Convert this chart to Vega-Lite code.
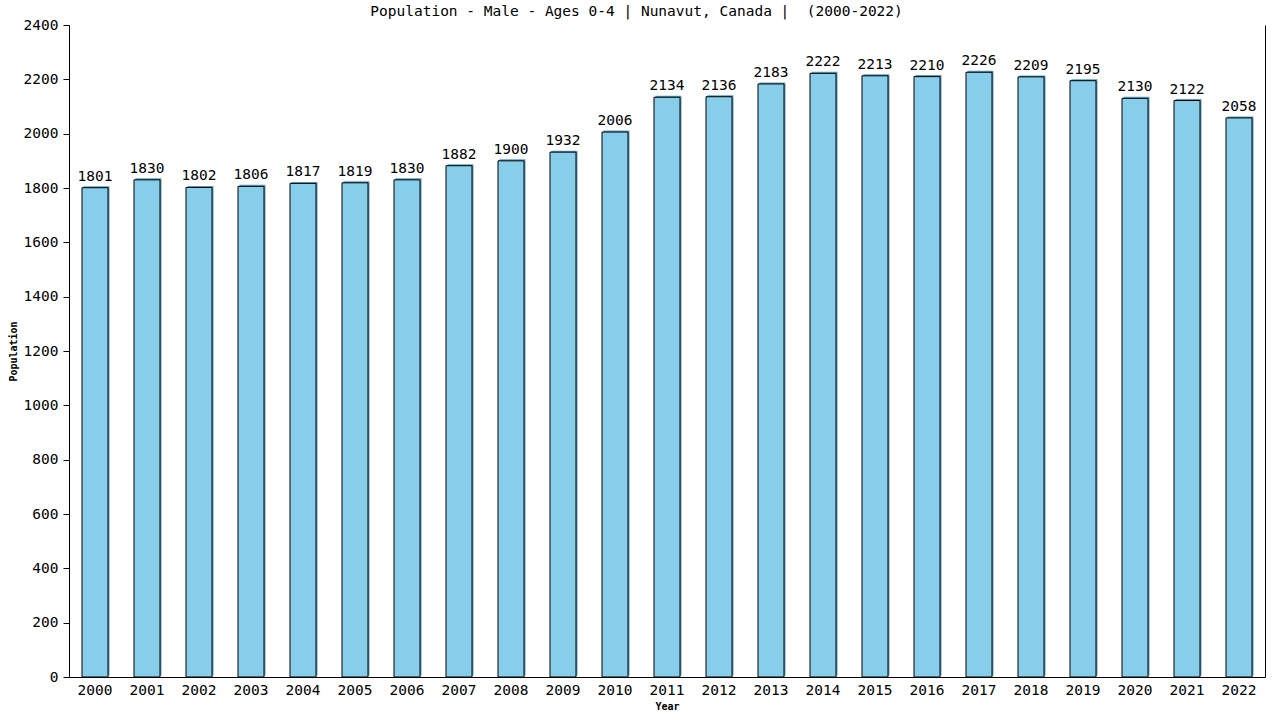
{
  "$schema": "https://vega.github.io/schema/vega-lite/v6.json",
  "width": 1196,
  "height": 652,
  "autosize": {"type": "none"},
  "padding": {"left": 69, "top": 25, "right": 15, "bottom": 43},
  "background": "white",
  "title": {
    "text": "Population - Male - Ages 0-4 | Nunavut, Canada | \u00a0(2000-2022)",
    "font": "DejaVu Sans Mono",
    "fontSize": 14.5,
    "fontWeight": "normal",
    "color": "black",
    "frame": "bounds",
    "offset": -2
  },
  "data": {
    "values": [
      {"year": "2000", "pop": 1801},
      {"year": "2001", "pop": 1830},
      {"year": "2002", "pop": 1802},
      {"year": "2003", "pop": 1806},
      {"year": "2004", "pop": 1817},
      {"year": "2005", "pop": 1819},
      {"year": "2006", "pop": 1830},
      {"year": "2007", "pop": 1882},
      {"year": "2008", "pop": 1900},
      {"year": "2009", "pop": 1932},
      {"year": "2010", "pop": 2006},
      {"year": "2011", "pop": 2134},
      {"year": "2012", "pop": 2136},
      {"year": "2013", "pop": 2183},
      {"year": "2014", "pop": 2222},
      {"year": "2015", "pop": 2213},
      {"year": "2016", "pop": 2210},
      {"year": "2017", "pop": 2226},
      {"year": "2018", "pop": 2209},
      {"year": "2019", "pop": 2195},
      {"year": "2020", "pop": 2130},
      {"year": "2021", "pop": 2122},
      {"year": "2022", "pop": 2058}
    ]
  },
  "encoding": {
    "x": {
      "field": "year",
      "type": "ordinal",
      "title": "Year",
      "scale": {"paddingInner": 0.5, "paddingOuter": 0.25},
      "axis": {
        "labelAngle": 0,
        "ticks": false,
        "domainColor": "black",
        "labelFont": "DejaVu Sans Mono",
        "labelFontSize": 14.5,
        "labelColor": "black",
        "labelPadding": 6,
        "titleFont": "DejaVu Sans Mono",
        "titleFontSize": 10,
        "titleFontWeight": "bold",
        "titleColor": "black",
        "titlePadding": 5
      }
    }
  },
  "layer": [
    {
      "mark": {"type": "bar", "color": "#5a9dbb", "xOffset": 1.5, "yOffset": -1.5},
      "encoding": {
        "y": {
          "field": "pop",
          "type": "quantitative",
          "title": "Population",
          "scale": {"domain": [0, 2400], "nice": false},
          "axis": {
            "values": [0, 200, 400, 600, 800, 1000, 1200, 1400, 1600, 1800, 2000, 2200, 2400],
            "format": "d",
            "grid": false,
            "tickSize": 6,
            "tickColor": "black",
            "domainColor": "black",
            "labelFont": "DejaVu Sans Mono",
            "labelFontSize": 14.5,
            "labelColor": "black",
            "labelPadding": 5,
            "titleFont": "DejaVu Sans Mono",
            "titleFontSize": 10,
            "titleFontWeight": "bold",
            "titleColor": "black",
            "titlePadding": 5
          }
        }
      }
    },
    {
      "mark": {"type": "bar", "color": "#87ceeb", "stroke": "black", "strokeWidth": 1},
      "encoding": {
        "y": {"field": "pop", "type": "quantitative", "axis": null}
      }
    },
    {
      "mark": {
        "type": "text",
        "baseline": "bottom",
        "dy": -4,
        "font": "DejaVu Sans Mono",
        "fontSize": 14.5,
        "color": "black"
      },
      "encoding": {
        "text": {"field": "pop", "type": "quantitative", "format": "d"},
        "y": {
          "field": "pop",
          "type": "quantitative",
          "axis": {
            "orient": "right",
            "labels": false,
            "ticks": false,
            "grid": false,
            "title": null,
            "domainColor": "black"
          }
        }
      }
    }
  ],
  "resolve": {"axis": {"y": "independent"}},
  "config": {"view": {"stroke": null}}
}
